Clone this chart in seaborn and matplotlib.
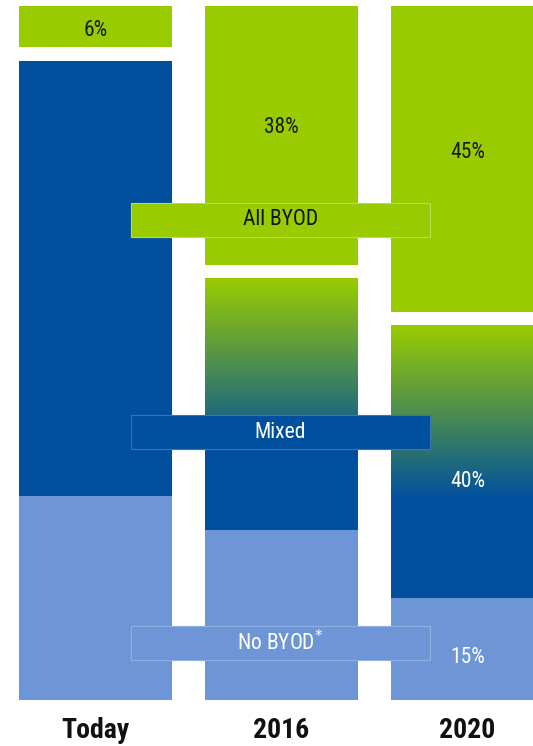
import numpy as np
import pandas as pd
import matplotlib
matplotlib.use("Agg")
import matplotlib.pyplot as plt
import seaborn as sns
from matplotlib.patches import Rectangle
from matplotlib.colors import LinearSegmentedColormap
from matplotlib import font_manager

# ---------------- data ----------------
periods = ["Today", "2016", "2020"]
all_byod = [6, 38, 45]
mixed = [64, 37, 40]
no_byod = [30, 25, 15]
label_all = ["6%", "38%", "45%"]
label_mixed = ["", "", "40%"]
label_no = ["", "", "15%"]
series_names = ["All BYOD", "Mixed", "No BYOD"]

# ---------------- style ----------------
GREEN = "#99CC00"
BLUE = "#00509E"
LIGHT = "#6E96D6"
GAP = 2.0          # white gap between All BYOD and Mixed
GRAD = 25.5        # height of the green->blue fade at top of the Mixed bars
W = 0.82

sns.set_theme(style="white")
names = {f.name for f in font_manager.fontManager.ttflist}
prefs = ["Liberation Sans Narrow", "Arial Narrow", "Roboto Condensed",
         "Archivo Narrow", "Asap Condensed", "Liberation Sans"]
narrow = next((p for p in prefs if p in names), "DejaVu Sans")
plt.rcParams["font.family"] = [narrow, "Liberation Sans", "DejaVu Sans"]

df = pd.DataFrame({"period": periods, "all": all_byod, "mixed": mixed, "no": no_byod})
df["top_mixed"] = df["no"] + df["mixed"]
df["gap_top"] = df["top_mixed"] + GAP
df["total"] = df["gap_top"] + df["all"]

fig = plt.figure(figsize=(5.33, 7.46), dpi=100)
ax = fig.add_axes([0, 46 / 746, 1, 700 / 746])

common = dict(data=df, x="period", order=periods, saturation=1, width=W,
              ax=ax, errorbar=None, linewidth=0)
sns.barplot(y="total", color=GREEN, **common)
sns.barplot(y="gap_top", color="white", **common)
sns.barplot(y="top_mixed", color=BLUE, **common)
mixed_bars = ax.containers[-1]
sns.barplot(y="no", color=LIGHT, **common)

# gradient fade on the Mixed bars of 2016 and 2020
cmap = LinearSegmentedColormap.from_list("fade", [BLUE, GREEN])
grad = np.linspace(0, 1, 256).reshape(-1, 1)
fade = [False, True, True]
for patch, f in zip(mixed_bars.patches, fade):
    if not f:
        continue
    x0 = patch.get_x()
    w = patch.get_width()
    top = patch.get_y() + patch.get_height()
    ax.imshow(grad, extent=[x0, x0 + w, top - GRAD, top], origin="lower",
              cmap=cmap, aspect="auto", interpolation="bilinear",
              zorder=patch.get_zorder() + 0.5)

# percentage labels
xs = np.arange(len(periods))
all_mid = df["gap_top"] + df["all"] / 2
mixed_mid = df["no"] + df["mixed"] / 2
no_mid = df["no"] / 2
dy_all = [-3, 6, 5]
dy_mixed = [0, 0, -14]
dy_no = [0, 0, -6]
for i in range(len(periods)):
    for txt, ym, dy, col in [(label_all[i], all_mid[i], dy_all[i], "#1a1a1a"),
                             (label_mixed[i], mixed_mid[i], dy_mixed[i], "white"),
                             (label_no[i], no_mid[i], dy_no[i], "white")]:
        if txt:
            ax.annotate(txt, (xs[i], ym), xytext=(0, dy), textcoords="offset points",
                        ha="center", va="center", fontsize=15.5, color=col, zorder=7)

# series label boxes
box_x0, box_w, box_h = 0.19, 1.61, 5.0
box_specs = [
    (series_names[0], 70.6, GREEN, "#b8dc55", "#111111"),
    (series_names[1], 39.4, BLUE, "#3d72b8", "white"),
    (series_names[2], 8.4, LIGHT, "#8fb0e2", "white"),
]
for name, yc, fc, ec, tc in box_specs:
    ax.add_patch(Rectangle((box_x0, yc - box_h / 2), box_w, box_h, facecolor=fc,
                           edgecolor=ec, linewidth=0.8, zorder=5))
    label = name + r"$^{*}$" if name == "No BYOD" else name
    ax.text(box_x0 + box_w / 2, yc, label, ha="center", va="center",
            fontsize=15.5, color=tc, zorder=6)

ax.set_xlim(-0.513, 2.352)
ax.set_ylim(0, 700 / 6.8)
ax.set_xticks(xs)
ax.set_xticklabels(periods, fontsize=20, fontweight="bold", color="#111111")
ax.tick_params(axis="x", length=0, pad=12)
ax.set_yticks([])
ax.set_xlabel("")
ax.set_ylabel("")
sns.despine(ax=ax, left=True, bottom=True)

fig.savefig("out.png", dpi=100)
